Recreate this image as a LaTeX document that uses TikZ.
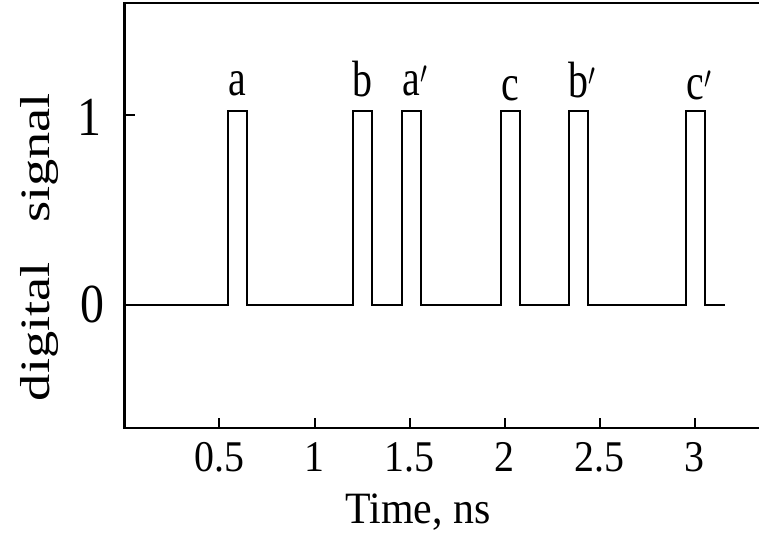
\documentclass[tikz,border=0pt]{standalone}
\usepackage{fontspec}
\setmainfont{Liberation Serif}

\begin{document}
\begin{tikzpicture}[x=190bp, y=194bp,
  axesline/.style={line width=2.8bp},
  sig/.style={line width=2bp, line join=miter},
  pulselbl/.style={anchor=base, inner sep=0pt, font=\fontsize{40}{48}\selectfont},
  ticklbl/.style={anchor=base, inner sep=0pt, font=\fontsize{40}{48}\selectfont}]
\useasboundingbox (-0.655,-1.175) rectangle (3.339,1.572);
% frame, open on the right
\draw [axesline] (3.339,1.557) -- (0,1.557) -- (0,-0.634) -- (3.339,-0.634);
% signal
\draw [sig] (0,0) foreach \s in {0.545,1.2,1.46,1.98,2.34,2.955} { -- (\s,0) -- (\s,1) -- (\s+0.1,1) -- (\s+0.1,0) } -- (3.16,0);
\foreach \s/\lab/\nm/\yy in {0.545/a/a/1.082, 1.2/b/b/1.077, 1.46/a\rlap{$'$}/ap/1.082,
    1.98/c/c/1.052, 2.34/b\rlap{$'$}/bp/1.072, 2.955/c\rlap{$'$}/cp/1.057}
  \node [pulselbl] (\nm) at (\s+0.05,\yy) {\scalebox{1}[1.28]{\lab}};
% x ticks
\foreach \t [count=\i] in {0.5,1,1.5,2,2.5,3} {
  \draw [sig] (\t,-0.634) -- (\t,-0.58);
  \node [ticklbl] (xt\i) at (\t,-0.856) {\scalebox{1}[1.1]{\t}};
}
\node [anchor=base, inner sep=0pt, font=\fontsize{42}{50}\selectfont] (xlab) at (1.545,-1.124) {\scalebox{1}[1.07]{Time, ns}};
% y ticks
\draw [sig] (0,0.98) -- (0.055,0.98);
\node [ticklbl, font=\fontsize{48}{56}\selectfont] (one) at (-0.182,0.876) {\scalebox{1}[1.15]{1}};
\node [ticklbl, font=\fontsize{48}{56}\selectfont] (zero) at (-0.171,-0.088) {\scalebox{1}[1.15]{0}};
\node [rotate=90, inner sep=0pt, font=\fontsize{42}{50}\selectfont] (ylab) at (-0.445,0.299) {\scalebox{1.3}[1]{digital\hspace{30bp}signal}};
\end{tikzpicture}
\end{document}
